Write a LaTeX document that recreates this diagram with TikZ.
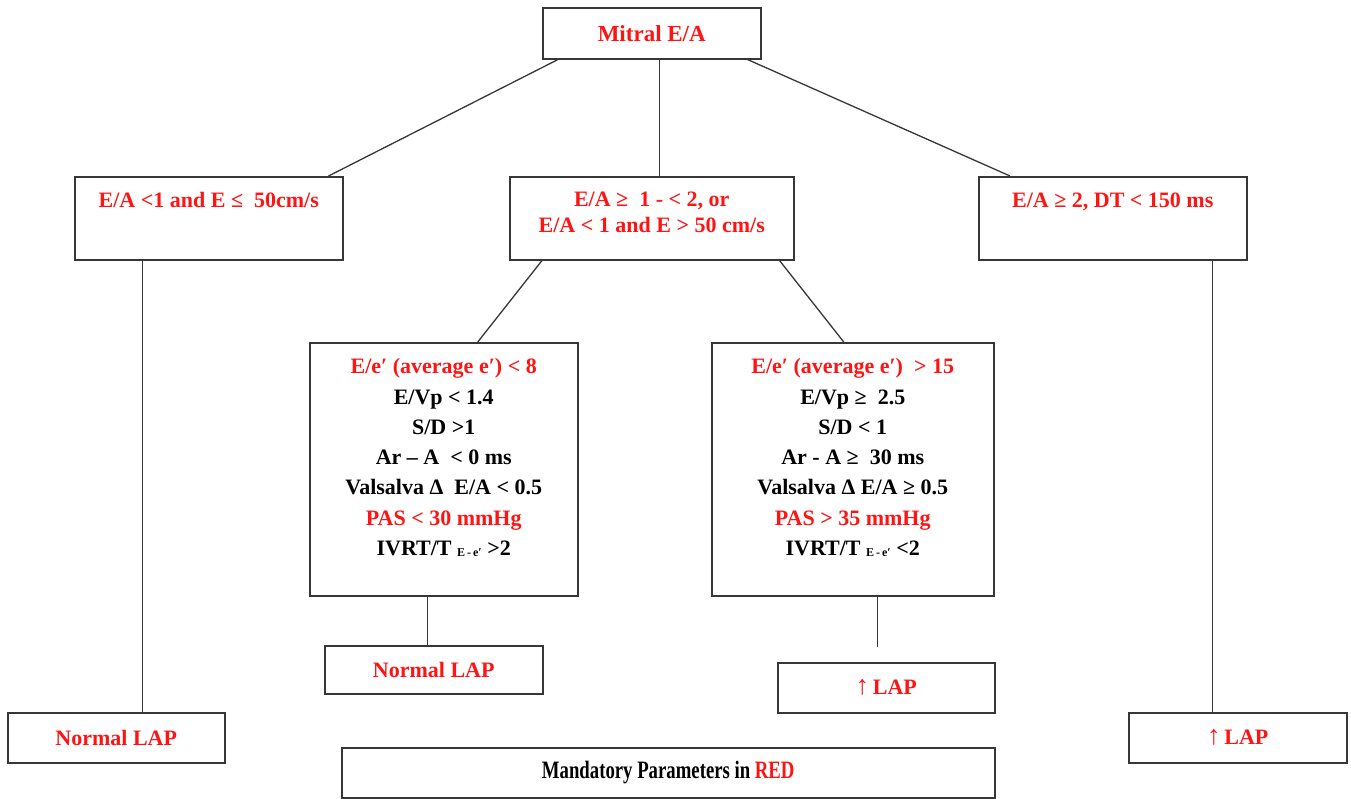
\documentclass[tikz,border=0pt]{standalone}
\usepackage{fontspec}
\setmainfont{Liberation Serif}
\newfontfamily\condfont{Liberation Serif}[FakeStretch=0.75]
\usetikzlibrary{positioning,calc}
\definecolor{mandred}{RGB}{255,20,20}
\definecolor{boxline}{RGB}{55,55,55}
\newcommand{\eesub}{\raisebox{-1pt}{\fontsize{12}{12}\selectfont E\,-\,e′}}
\newcommand{\uparr}{{\fontsize{27}{26}\mdseries ↑}}

\begin{document}
\begin{tikzpicture}
[x=1pt,y=-1pt,
  boxdecorate/.style={draw=boxline,line width=1.5pt,inner sep=0pt,anchor=north west,
    font=\bfseries\fontsize{22}{26}\selectfont,text=mandred},
  critdecorate/.style={boxdecorate,text=black,font=\bfseries\fontsize{22}{30.3}\selectfont},
  linedecorate/.style={-,draw=boxline,line width=1.3pt}]
\useasboundingbox (0,0) rectangle (1351,798);
%% boxes
\node (mitral) at (542,7) [boxdecorate,minimum width=218pt,minimum height=51pt,
  font=\bfseries\fontsize{23}{26}\selectfont] {Mitral E/A};
\node (leftcond) at (74,176) [boxdecorate,minimum width=268pt,text height=31pt,text depth=52pt]
  {E/A <1 and E ≤ \ 50cm/s};
\node (midcond) at (509,176) [boxdecorate,minimum width=284pt,text height=30pt,text depth=53pt]
  {\begin{tabular}[t]{@{}c@{}}E/A ≥ \ 1 - < 2, or\\E/A < 1 and E > 50 cm/s\end{tabular}};
\node (rightcond) at (978,176) [boxdecorate,minimum width=268pt,text height=31pt,text depth=52pt]
  {E/A ≥ 2, DT < 150 ms};
\node (critL) at (309,342) [critdecorate,minimum width=268pt,text height=31pt,text depth=222pt]
  {\begin{tabular}[t]{@{}c@{}}
   \textcolor{mandred}{E/e′ (average e′) < 8}\\
   E/Vp < 1.4\\
   S/D >1\\
   Ar – A \ < 0 ms\\
   Valsalva Δ \ E/A < 0.5\\
   \textcolor{mandred}{PAS < 30 mmHg}\\
   IVRT/T \eesub{} >2
  \end{tabular}};
\node (critR) at (711,342) [critdecorate,minimum width=282pt,text height=31pt,text depth=222pt]
  {\begin{tabular}[t]{@{}c@{}}
   \textcolor{mandred}{E/e′ (average e′) \ > 15}\\
   E/Vp ≥ \ 2.5\\
   S/D < 1\\
   Ar - A ≥ \ 30 ms\\
   Valsalva Δ E/A ≥ 0.5\\
   \textcolor{mandred}{PAS > 35 mmHg}\\
   IVRT/T \eesub{} <2
  \end{tabular}};
\node (normalM) at (324,645) [boxdecorate,minimum width=218pt,minimum height=48pt] {Normal LAP};
\node (uplapM) at (777,662) [boxdecorate,minimum width=217pt,minimum height=50pt] {\uparr\,LAP};
\node (normalL) at (7,712) [boxdecorate,minimum width=217pt,minimum height=50pt] {Normal LAP};
\node (uplapR) at (1128,712) [boxdecorate,minimum width=218pt,minimum height=50pt] {\uparr\,LAP};
\node (mandatory) at (341,747) [boxdecorate,minimum width=653pt,minimum height=50pt,text=black,
  font=\condfont\bfseries\fontsize{25}{26}\selectfont] {Mandatory Parameters in \textcolor{mandred}{RED}};
%% edges or lines
\draw[linedecorate] ([xshift=16pt]mitral.south west) -- ([xshift=-15pt]leftcond.north east);
\draw[linedecorate] ([xshift=8pt]mitral.south) -- ([xshift=8pt]midcond.north);
\draw[linedecorate] ([xshift=-14pt]mitral.south east) -- ([xshift=32pt]rightcond.north west);
\draw[linedecorate] ([xshift=33pt]midcond.south west) -- ([xshift=34pt]critL.north);
\draw[linedecorate] ([xshift=-15pt]midcond.south east) -- ([xshift=-9pt]critR.north);
\draw[linedecorate] ([xshift=-66pt]leftcond.south) coordinate (lefttop) -- (lefttop |- normalL.north);
\draw[linedecorate] ([xshift=100pt]rightcond.south) coordinate (righttop) -- (righttop |- uplapR.north);
\draw[linedecorate] ([xshift=-16pt]critL.south) coordinate (critLtop) -- (critLtop |- normalM.north);
\coordinate (critRend) at ($(critR.south)+(25,50)$);
\draw[linedecorate] ([xshift=25pt]critR.south) -- (critRend);
\end{tikzpicture}
\end{document}
